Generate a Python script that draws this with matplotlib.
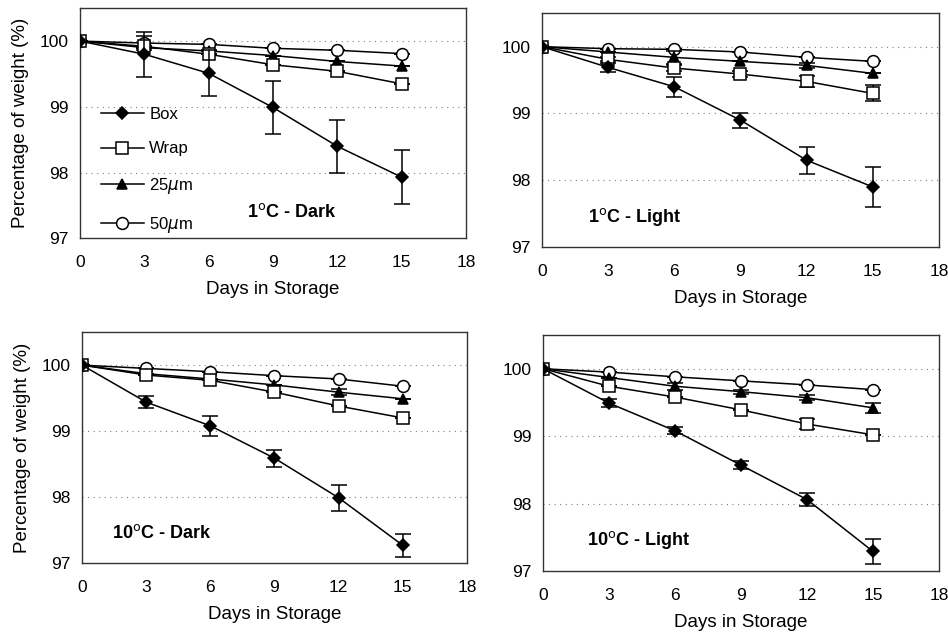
import matplotlib
matplotlib.use("Agg")
from matplotlib import pyplot as plt

plt.rcParams['font.family'] = ['Liberation Sans', 'DejaVu Sans']

days = [0, 3, 6, 9, 12, 15]
series_names = ["Box", "Wrap", "25$\\mu$m", "50$\\mu$m"]

# 1 C - Dark
d1_box = [100, 99.80, 99.51, 98.99, 98.40, 97.93]
d1_box_err = [0, 0.34, 0.35, 0.40, 0.40, 0.41]
d1_wrap = [100, 99.92, 99.80, 99.64, 99.54, 99.35]
d1_25 = [100, 99.90, 99.85, 99.78, 99.69, 99.62]
d1_50 = [100, 99.97, 99.95, 99.89, 99.86, 99.81]
d1_wrap_err = [0, 0, 0, 0, 0, 0]
d1_25_err = [0, 0, 0, 0, 0, 0]
d1_50_err = [0, 0.1, 0, 0, 0, 0]

# 1 C - Light
l1_box = [100, 99.69, 99.40, 98.90, 98.30, 97.90]
l1_box_err = [0, 0.07, 0.15, 0.11, 0.20, 0.30]
l1_wrap = [100, 99.81, 99.68, 99.59, 99.48, 99.30]
l1_wrap_err = [0, 0.03, 0.05, 0.05, 0.08, 0.12]
l1_25 = [100, 99.92, 99.84, 99.78, 99.72, 99.60]
l1_25_err = [0, 0, 0.1, 0, 0.04, 0]
l1_50 = [100, 99.97, 99.96, 99.92, 99.84, 99.78]
l1_50_err = [0, 0, 0, 0, 0, 0]

# 10 C - Dark
d10_box = [100, 99.44, 99.08, 98.59, 97.99, 97.27]
d10_box_err = [0, 0.09, 0.15, 0.13, 0.20, 0.17]
d10_wrap = [100, 99.85, 99.77, 99.59, 99.38, 99.20]
d10_wrap_err = [0, 0, 0, 0, 0, 0]
d10_25 = [100, 99.87, 99.79, 99.70, 99.59, 99.49]
d10_25_err = [0, 0, 0, 0, 0.05, 0]
d10_50 = [100, 99.95, 99.90, 99.84, 99.79, 99.68]
d10_50_err = [0, 0, 0, 0, 0, 0]

# 10 C - Light
l10_box = [100, 99.49, 99.08, 98.57, 98.06, 97.29]
l10_box_err = [0, 0.06, 0.05, 0.06, 0.10, 0.19]
l10_wrap = [100, 99.74, 99.58, 99.39, 99.18, 99.02]
l10_wrap_err = [0, 0, 0, 0, 0.08, 0]
l10_25 = [100, 99.87, 99.74, 99.66, 99.57, 99.42]
l10_25_err = [0, 0, 0.05, 0.03, 0.04, 0.07]
l10_50 = [100, 99.95, 99.88, 99.82, 99.76, 99.69]
l10_50_err = [0, 0, 0, 0, 0, 0]

panel_titles = ["1$^{\\rm o}$C - Dark", "1$^{\\rm o}$C - Light",
                "10$^{\\rm o}$C - Dark", "10$^{\\rm o}$C - Light"]
title_pos = [(7.8, 97.33), (2.1, 97.38), (1.4, 97.38), (2.0, 97.38)]

panels = [
    [(d1_box, d1_box_err), (d1_wrap, d1_wrap_err), (d1_25, d1_25_err), (d1_50, d1_50_err)],
    [(l1_box, l1_box_err), (l1_wrap, l1_wrap_err), (l1_25, l1_25_err), (l1_50, l1_50_err)],
    [(d10_box, d10_box_err), (d10_wrap, d10_wrap_err), (d10_25, d10_25_err), (d10_50, d10_50_err)],
    [(l10_box, l10_box_err), (l10_wrap, l10_wrap_err), (l10_25, l10_25_err), (l10_50, l10_50_err)],
]

# marker, face colour, size
styles = [("D", "black", 6), ("s", "white", 8), ("^", "black", 7), ("o", "white", 8.5)]

positions = [
    [0.0844, 0.623, 0.407, 0.364],
    [0.5717, 0.609, 0.4188, 0.370],
    [0.0865, 0.109, 0.406, 0.3655],
    [0.5728, 0.0965, 0.4177, 0.3734],
]

fig = plt.figure(figsize=(9.48, 6.32), dpi=100)

for i in range(4):
    ax = fig.add_axes(positions[i])
    # draw back to front so box ends on top like the original
    for j in range(3, -1, -1):
        vals, err = panels[i][j]
        mk, fc, ms = styles[j]
        ax.errorbar(days, vals, yerr=err, color="black", lw=1.1,
                    marker=mk, markerfacecolor=fc, markeredgecolor="black",
                    markersize=ms, markeredgewidth=1.1, capsize=6,
                    elinewidth=1.1, capthick=1.1, label=series_names[j],
                    zorder=3 + (3 - j))
    ax.set_xlim(0, 18)
    ax.set_ylim(97, 100.5)
    ax.set_xticks([0, 3, 6, 9, 12, 15, 18])
    ax.set_yticks([97, 98, 99, 100])
    ax.tick_params(axis="x", length=0, labelsize=12.5, pad=12)
    ax.tick_params(axis="y", length=0, labelsize=12.5, pad=8)
    for y in [98, 99, 100]:
        ax.axhline(y, color="gray", lw=0.8, ls=(0, (1, 4)), zorder=1)
    for s in ax.spines.values():
        s.set_linestyle((0, (2, 1)))
        s.set_linewidth(1.0)
        s.set_color("#333333")
    ax.set_xlabel("Days in Storage", fontsize=13.5, labelpad=8)
    if i % 2 == 0:
        ax.set_ylabel("Percentage of weight (%)", fontsize=13.5, labelpad=8)
    tx, ty = title_pos[i]
    ax.text(tx, ty, panel_titles[i], fontsize=13, fontweight="bold")
    if i == 0:
        h, l = ax.get_legend_handles_labels()
        h = [hh[0] for hh in h][::-1]
        l = l[::-1]
        ax.legend(h, l, loc="lower left", bbox_to_anchor=(0.015, -0.05),
                  frameon=False, fontsize=12, handlelength=2.6,
                  labelspacing=1.15, handletextpad=0.3)

fig.savefig("out.png", dpi=100)
